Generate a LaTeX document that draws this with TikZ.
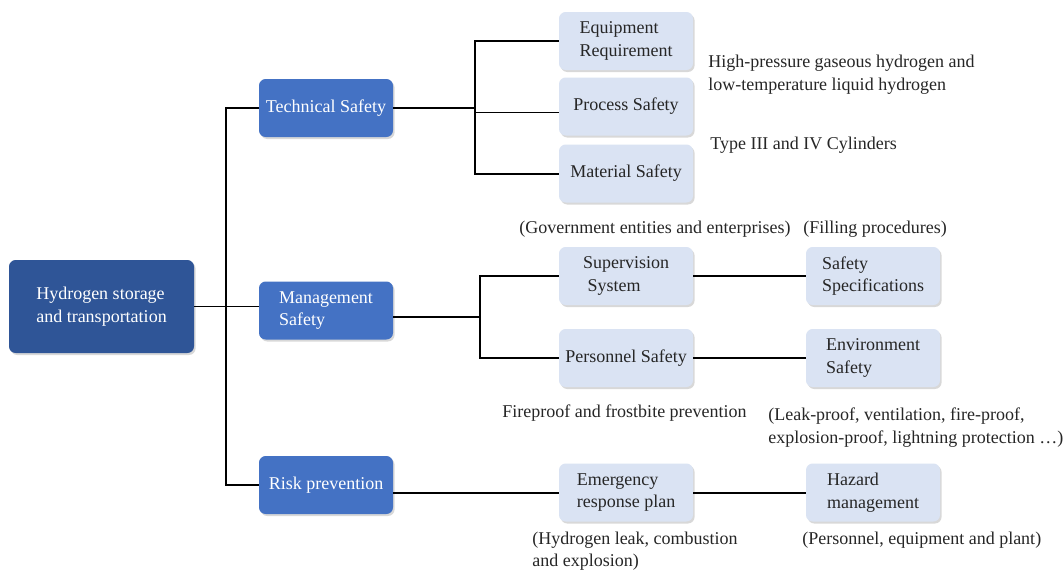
\documentclass[tikz,border=0pt]{standalone}
\usepackage{fontspec}
\setmainfont{Liberation Serif}
\usetikzlibrary{shadows}
\definecolor{rootblue}{RGB}{47,85,151}
\definecolor{midblue}{RGB}{68,114,196}
\definecolor{lightbox}{RGB}{218,227,243}
\tikzset{
 boxbase/.style={rounded corners=5pt, inner sep=2pt, font=\fontsize{13.5}{17}\selectfont, align=left,
   drop shadow={shadow xshift=1.2pt, shadow yshift=-1.5pt, opacity=0.3}},
 rootbox/.style={boxbase, fill=rootblue, text=white, minimum width=138.75pt, minimum height=69.75pt},
 midbox/.style={boxbase, fill=midblue, text=white, minimum width=100.5pt, minimum height=43.5pt},
 leafbox/.style={boxbase, fill=lightbox, text=black!85, minimum width=100.5pt, minimum height=43.5pt},
 note/.style={font=\fontsize{13.5}{17}\selectfont, align=left, inner sep=0pt, anchor=west, text=black!85},
 link/.style={draw=black, line width=1.5pt},
 rootlink/.style={draw=black, line width=0.9pt}
}
\begin{document}
\begin{tikzpicture}[x=0.75pt,y=-0.75pt]
\fill[white] (0,0) rectangle (1063,572);
\useasboundingbox (0,0) rectangle (1063,572);
% nodes
\node[rootbox] (root) at (101.5,306.5) {Hydrogen storage\\and transportation};
\node[midbox] (tech) at (326,108) {Technical Safety};
\node[midbox] (mgmt) at (326,310.5) {Management\\Safety};
\node[midbox] (risk) at (326,485) {Risk prevention};
\node[leafbox] (equip) at (626,41) {Equipment\\Requirement};
\node[leafbox] (proc) at (626,106.5) {Process Safety};
\node[leafbox] (mat) at (626,173.5) {Material Safety};
\node[leafbox] (sup) at (626,276) {Supervision\\\ System};
\node[leafbox] (spec) at (873,276) {Safety\\Specifications};
\node[leafbox] (pers) at (626,358) {Personnel Safety};
\node[leafbox] (env) at (873,358) {Environment\\Safety};
\node[leafbox] (emerg) at (626,492.5) {Emergency\\response plan};
\node[leafbox] (hazard) at (873,492.5) {Hazard\\management};
% notes
\node[note] (n1) at (708,74.5) {High-pressure gaseous hydrogen and\\low-temperature liquid hydrogen};
\node[note] (n2) at (710,145) {Type III and IV Cylinders};
\node[note] (n3) at (519,229) {(Government entities and enterprises)};
\node[note] (n4) at (803,229) {(Filling procedures)};
\node[note] (n5) at (502,413) {Fireproof and frostbite prevention};
\node[note] (n6) at (768,427.5) {(Leak-proof, ventilation, fire-proof,\\explosion-proof, lightning protection \dots)};
\node[note] (n7) at (532,551) {(Hydrogen leak, combustion\\and explosion)};
\node[note] (n8) at (802,540) {(Personnel, equipment and plant)};
% connectors
\coordinate (spine) at (226,0);
\coordinate (tb) at (475,0);
\coordinate (mb) at (480,0);
\draw[rootlink] (tech.west) -- (tech.west -| spine) -- (risk.west -| spine) -- (risk.west);
\draw[rootlink] (root.east) -- (root.east -| mgmt.west);
\draw[link] (tech.east) -- (tech.east -| tb);
\draw[link] (equip.west) -- (equip.west -| tb) -- (mat.west -| tb) -- (mat.west);
\draw[rootlink] ([yshift=-4.5pt]proc.west -| tb) -- ([yshift=-4.5pt]proc.west);
\draw[link] ([yshift=-5pt]mgmt.east) -- ([yshift=-5pt]mgmt.east -| mb);
\draw[link] (sup.west) -- (sup.west -| mb) -- (pers.west -| mb) -- (pers.west);
\draw[link] (sup.east) -- (spec.west);
\draw[link] (pers.east) -- (env.west);
\draw[link] (risk.east |- emerg.west) -- (emerg.west);
\draw[link] (emerg.east) -- (hazard.west);
\end{tikzpicture}
\end{document}
